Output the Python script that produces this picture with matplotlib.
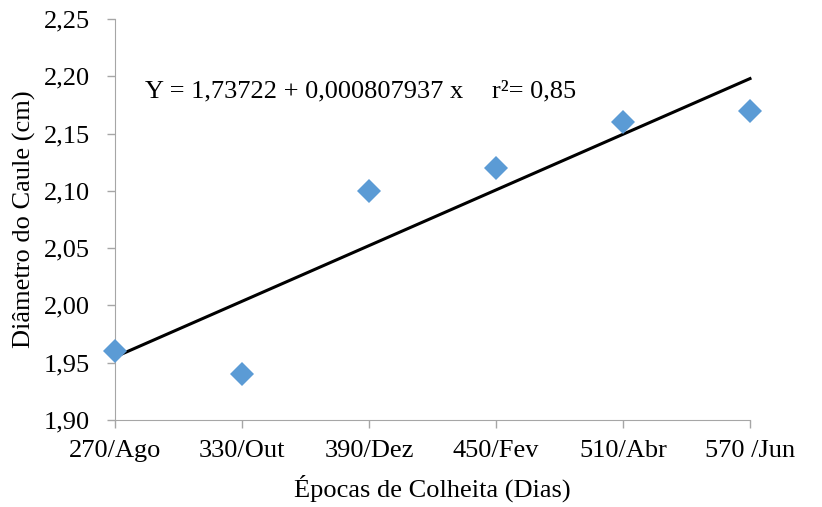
import matplotlib
matplotlib.use("Agg")
import matplotlib.pyplot as plt
from matplotlib.ticker import FuncFormatter

plt.rcParams['font.family'] = ['Liberation Serif', 'DejaVu Serif']

dias = [270, 330, 390, 450, 510, 570]
diametro = [1.96, 1.94, 2.10, 2.12, 2.16, 2.17]
tick_labels = ["270/Ago", "330/Out", "390/Dez", "450/Fev", "510/Abr", "570 /Jun"]
trend_x = [270, 570]
trend_y = [1.955, 2.198]

fig = plt.figure(figsize=(8.22, 5.07), dpi=100)
ax = fig.add_axes([0.1399, 0.1716, 0.7725, 0.7909])

ax.plot(trend_x, trend_y, color='black', lw=2.2, zorder=2)
ax.plot(dias, diametro, 'D', color='#5B9BD5', markersize=12.5, markeredgewidth=0, zorder=3)

ax.set_xlim(270, 570)
ax.set_ylim(1.90, 2.25)
ax.set_xticks(dias)
ax.set_xticklabels(tick_labels)
ax.set_yticks([1.90, 1.95, 2.00, 2.05, 2.10, 2.15, 2.20, 2.25])
ax.yaxis.set_major_formatter(FuncFormatter(lambda v, p: ("%.2f" % v).replace(".", ",")))

for s in ['top', 'right']:
    ax.spines[s].set_visible(False)
ax.spines['left'].set_color('#a6a6a6')
ax.spines['bottom'].set_color('#a6a6a6')
ax.tick_params(axis='both', colors='#a6a6a6', labelcolor='black', labelsize=19, width=1)
ax.tick_params(axis='x', length=5.5, pad=9)
ax.tick_params(axis='y', length=6, pad=12)
for ln in ax.lines:
    ln.set_clip_on(False)

ax.text(145 / 822, 1 - 91 / 507, "Y = 1,73722 + 0,000807937 x", transform=fig.transFigure,
        fontsize=19, va='center', ha='left')
ax.text(492 / 822, 1 - 91 / 507, "r\u00b2= 0,85", transform=fig.transFigure,
        fontsize=19, va='center', ha='left')

ax.set_xlabel("Épocas de Colheita (Dias)", fontsize=19, labelpad=9)
ax.set_ylabel("Diâmetro do Caule (cm)", fontsize=19, labelpad=6)

fig.savefig("out.png", dpi=100)
